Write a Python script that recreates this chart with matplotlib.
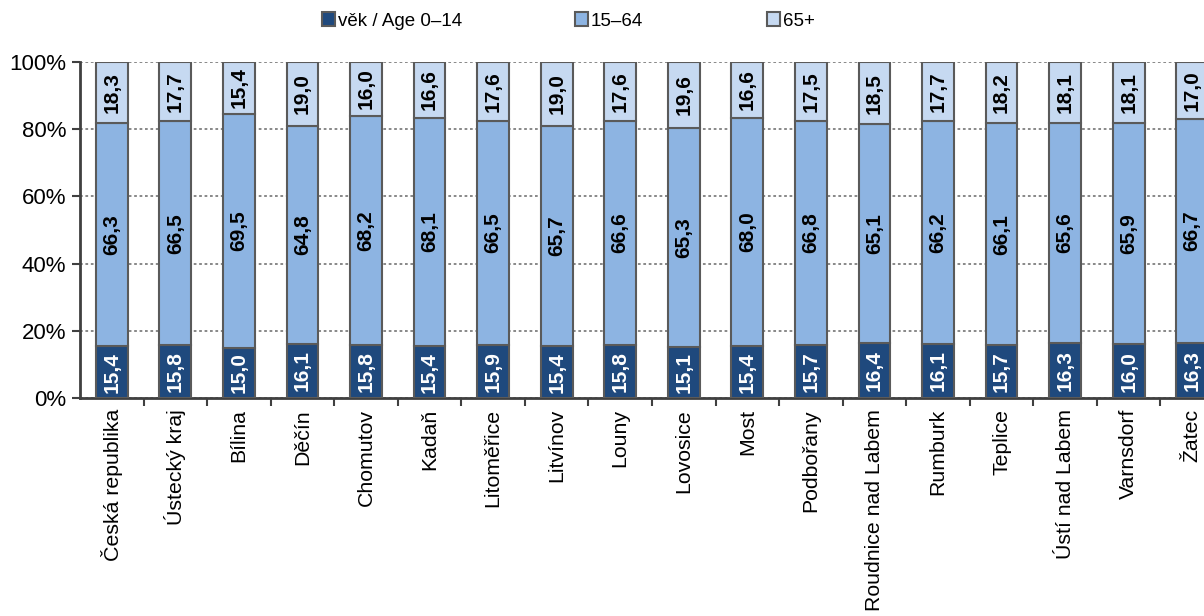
import matplotlib
matplotlib.use('Agg')
import matplotlib.pyplot as plt
import numpy as np

plt.rcParams['font.family'] = ['Liberation Sans', 'DejaVu Sans']

# Data (percent of population by age group)
categories = ["Česká republika", "Ústecký kraj", "Bílina", "Děčín", "Chomutov",
              "Kadaň", "Litoměřice", "Litvínov", "Louny", "Lovosice", "Most",
              "Podbořany", "Roudnice nad Labem", "Rumburk", "Teplice",
              "Ústí nad Labem", "Varnsdorf", "Žatec"]
age_0_14 = [15.4, 15.8, 15.0, 16.1, 15.8, 15.4, 15.9, 15.4, 15.8, 15.1, 15.4,
            15.7, 16.4, 16.1, 15.7, 16.3, 16.0, 16.3]
age_15_64 = [66.3, 66.5, 69.5, 64.8, 68.2, 68.1, 66.5, 65.7, 66.6, 65.3, 68.0,
             66.8, 65.1, 66.2, 66.1, 65.6, 65.9, 66.7]
age_65 = [18.3, 17.7, 15.4, 19.0, 16.0, 16.6, 17.6, 19.0, 17.6, 19.6, 16.6,
          17.5, 18.5, 17.7, 18.2, 18.1, 18.1, 17.0]
series_names = ["věk / Age 0–14", "15–64", "65+"]

colors = ['#1F497D', '#8DB4E2', '#C6D9F1']
text_colors = ['white', 'black', 'black']
edge = '#5A5A5A'

fig = plt.figure(figsize=(12.04, 6.16), dpi=100)
ax = fig.add_axes([80 / 1204, 218 / 616, 1144 / 1204, 336 / 616])

x = np.arange(len(categories))
raw = np.array([age_0_14, age_15_64, age_65])
pct = raw / raw.sum(axis=0) * 100

bottom = np.zeros(len(categories))
handles = []
for k in range(3):
    bars = ax.bar(x, pct[k], 0.5, bottom=bottom, color=colors[k],
                  edgecolor=edge, linewidth=1.5, zorder=3, label=series_names[k])
    handles.append(bars)
    for i in range(len(categories)):
        ax.text(x[i], bottom[i] + pct[k][i] / 2, f"{raw[k][i]:.1f}".replace('.', ','),
                rotation=90, ha='center', va='center', fontsize=15,
                fontweight='bold', color=text_colors[k], zorder=4)
    bottom += pct[k]

ax.set_xlim(-0.5, len(categories) - 0.5)
ax.set_ylim(0, 100)
ax.set_yticks([0, 20, 40, 60, 80, 100])
ax.set_yticklabels([f"{v}%" for v in [0, 20, 40, 60, 80, 100]], fontsize=16)
ax.yaxis.grid(True, linestyle=(0, (1.5, 1.5)), color='#7F7F7F', linewidth=1.3, zorder=0)
ax.set_axisbelow(True)

ax.set_xticks(x)
ax.set_xticklabels(categories, rotation=90, fontsize=15.3, va='top')
ax.set_xticks(np.arange(len(categories)) + 0.5, minor=True)
ax.tick_params(axis='x', which='major', length=0, pad=8)
ax.tick_params(axis='x', which='minor', length=6, width=1.5, color='#404040')
ax.tick_params(axis='y', length=6, width=1.5, color='#404040', pad=4)

for s in ['top', 'right']:
    ax.spines[s].set_visible(False)
for s in ['left', 'bottom']:
    ax.spines[s].set_color('#404040')
    ax.spines[s].set_linewidth(2)

# legend entries placed individually along the top
legend_x = [322, 575, 767]
for h, name, lx in zip(handles, series_names, legend_x):
    fig.legend(handles=[h], labels=[name], loc='center left',
               bbox_to_anchor=(lx / 1204, 1 - 21 / 616), frameon=False,
               fontsize=13.5, handlelength=0.7, handleheight=0.7,
               handletextpad=0.15, borderaxespad=0, borderpad=0)

plt.savefig('out.png', dpi=100)
